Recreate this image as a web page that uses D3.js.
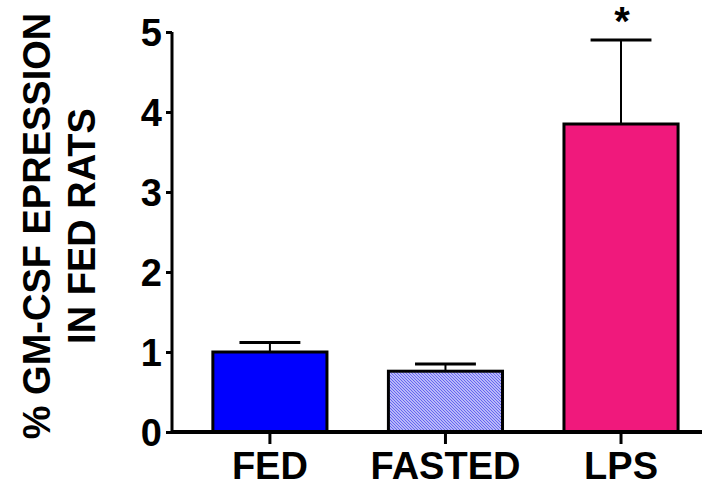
<!DOCTYPE html>
<html>
<head>
<meta charset="utf-8">
<script src="https://cdn.jsdelivr.net/npm/d3@7"></script>
<style>
  html, body { margin: 0; padding: 0; background: #ffffff; }
  svg { display: block; }
  text { font-family: "Liberation Sans", Arial, sans-serif; font-weight: bold; fill: #000; }
</style>
</head>
<body>
<svg id="chart" width="702" height="488"></svg>
<script>
// Group names, mean expression and SEM
const categories = ["FED", "FASTED", "LPS"];
const means = [1.0, 0.76, 3.85];
const errors = [0.12, 0.09, 1.05];
const yTicks = [0, 1, 2, 3, 4, 5];
const titleLines = ["% GM-CSF EPRESSION", "IN FED RATS"];
const significance = ["", "", "*"];

const svg = d3.select("#chart");

// Hatch fill used for the fasted group
const defs = svg.append("defs");
const pat = defs.append("pattern")
  .attr("id", "hatch")
  .attr("patternUnits", "userSpaceOnUse")
  .attr("width", 3).attr("height", 3);
pat.append("rect").attr("width", 3).attr("height", 3).attr("fill", "#dcdcfc");
pat.append("path")
  .attr("d", "M-1,-1 L4,4 M-1,2 L1,4 M2,-1 L4,1")
  .attr("stroke", "#6060f0").attr("stroke-width", 1.1);

const fills = ["#0000ff", "url(#hatch)", "#f0197c"];

const x = d3.scaleBand()
  .domain(categories)
  .range([172, 702])
  .paddingInner(0.333)
  .paddingOuter(0.176)
  .align(0.637);

const y = d3.scaleLinear().domain([0, 5]).range([432, 32]);

// Bars
svg.append("g").selectAll("rect")
  .data(categories)
  .join("rect")
  .attr("x", d => x(d) + 1.5)
  .attr("y", (d, i) => y(means[i]))
  .attr("width", x.bandwidth() - 3)
  .attr("height", (d, i) => y(0) - y(means[i]))
  .attr("fill", (d, i) => fills[i])
  .attr("stroke", "#000")
  .attr("stroke-width", 3);

// Error bars (upper only)
const eb = svg.append("g").selectAll("g")
  .data(categories)
  .join("g");
eb.append("line")
  .attr("x1", d => x(d) + x.bandwidth() / 2)
  .attr("x2", d => x(d) + x.bandwidth() / 2)
  .attr("y1", (d, i) => y(means[i]))
  .attr("y2", (d, i) => y(means[i] + errors[i]))
  .attr("stroke", "#000").attr("stroke-width", 2);
eb.append("line")
  .attr("x1", d => x(d) + x.bandwidth() / 2 - x.bandwidth() * 0.26)
  .attr("x2", d => x(d) + x.bandwidth() / 2 + x.bandwidth() * 0.26)
  .attr("y1", (d, i) => y(means[i] + errors[i]))
  .attr("y2", (d, i) => y(means[i] + errors[i]))
  .attr("stroke", "#000").attr("stroke-width", 3);

// Significance marks
svg.append("g").selectAll("text")
  .data(categories)
  .join("text")
  .attr("x", d => x(d) + x.bandwidth() / 2 + 1)
  .attr("y", (d, i) => y(means[i] + errors[i]) - 5)
  .attr("text-anchor", "middle")
  .style("font-size", "40px")
  .text((d, i) => significance[i]);

// Y axis
const yAxis = svg.append("g")
  .attr("transform", "translate(172,0)")
  .call(d3.axisLeft(y).tickValues(yTicks).tickFormat(d3.format("d")).tickSize(6).tickPadding(4));
yAxis.select(".domain").attr("d", `M0,${y(5)}V${y(0)}`).attr("stroke", "#000").attr("stroke-width", 3);
yAxis.selectAll(".tick line").attr("stroke", "#000").attr("stroke-width", 3);
yAxis.selectAll(".tick text")
  .attr("dy", "0.36em")
  .style("font-size", "38px")
  .style("font-family", "'Liberation Sans', Arial, sans-serif")
  .style("font-weight", "bold");

// X axis
const xAxis = svg.append("g")
  .attr("transform", `translate(0,${y(0)})`)
  .call(d3.axisBottom(x).tickSize(12).tickPadding(8));
xAxis.select(".domain").attr("d", "M172,0H702").attr("stroke", "#000").attr("stroke-width", 4);
xAxis.selectAll(".tick line").attr("stroke", "#000").attr("stroke-width", 3);
xAxis.selectAll(".tick text")
  .attr("dy", "0.71em")
  .style("font-size", "38px")
  .style("font-family", "'Liberation Sans', Arial, sans-serif")
  .style("font-weight", "bold");

// Rotated y-axis title, two lines
const titleX = [50, 95];
svg.append("g").selectAll("text")
  .data(titleLines)
  .join("text")
  .attr("transform", (d, i) => `translate(${titleX[i]},226) rotate(-90)`)
  .attr("text-anchor", "middle")
  .style("font-size", "38px")
  .text(d => d);
</script>
</body>
</html>
